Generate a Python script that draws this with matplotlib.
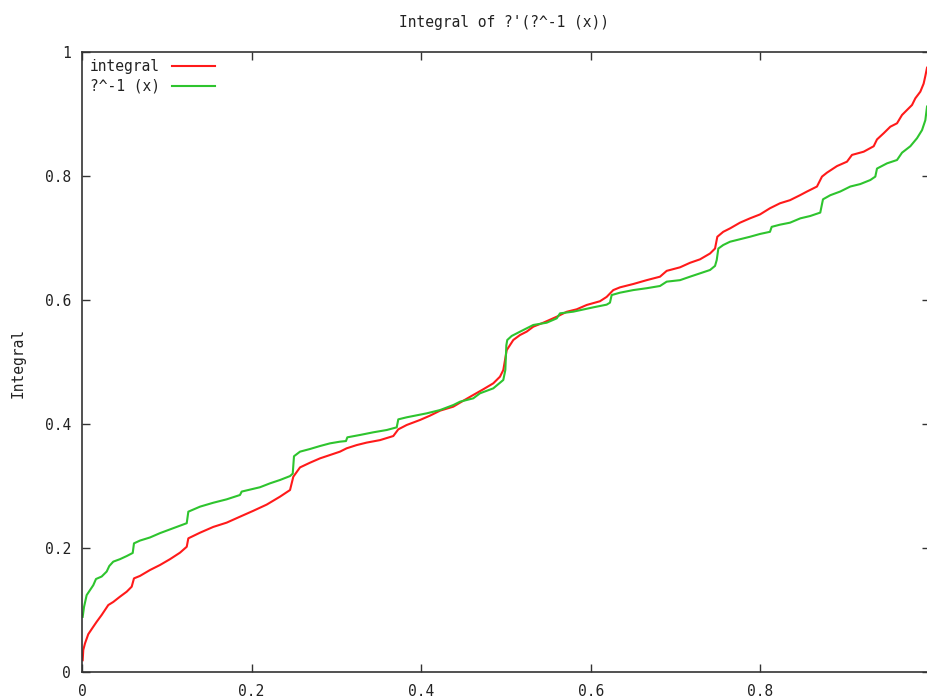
import matplotlib
matplotlib.use("Agg")
import matplotlib.pyplot as plt
from matplotlib.ticker import FuncFormatter, MultipleLocator

# ?^-1(x) sampled along [0, 1]
box_x = [0.0008, 0.0024, 0.0055, 0.0094, 0.0133, 0.0165, 0.0232, 0.0291, 0.0322, 0.0369,
         0.0448, 0.0527, 0.0598, 0.0613, 0.0684, 0.0802, 0.0920, 0.1077, 0.1235, 0.1254,
         0.1392, 0.1548, 0.1706, 0.1863, 0.1883, 0.2099, 0.2217, 0.2335, 0.2453, 0.2485,
         0.2500, 0.2571, 0.2689, 0.2807, 0.2925, 0.3042, 0.3113, 0.3129, 0.3278, 0.3435,
         0.3593, 0.3711, 0.3730, 0.3829, 0.4065, 0.4222, 0.4379, 0.4458, 0.4614, 0.4693,
         0.4850, 0.4968, 0.4992, 0.5004, 0.5015, 0.5067, 0.5165, 0.5322, 0.5480, 0.5598,
         0.5637, 0.5794, 0.6030, 0.6187, 0.6226, 0.6246, 0.6344, 0.6501, 0.6659, 0.6816,
         0.6895, 0.7052, 0.7170, 0.7288, 0.7406, 0.7465, 0.7485, 0.7504, 0.7562, 0.7642,
         0.7759, 0.7877, 0.7995, 0.8113, 0.8133, 0.8231, 0.8349, 0.8471, 0.8588, 0.8706,
         0.8738, 0.8824, 0.8942, 0.9060, 0.9178, 0.9296, 0.9355, 0.9375, 0.9493, 0.9611,
         0.9670, 0.9768, 0.9847, 0.9906, 0.9945, 0.9965]
box_y = [0.089, 0.105, 0.124, 0.132, 0.140, 0.150, 0.154, 0.162, 0.171, 0.178,
         0.182, 0.187, 0.192, 0.2075, 0.212, 0.217, 0.224, 0.232, 0.240, 0.2586,
         0.2667, 0.273, 0.2785, 0.2855, 0.291, 0.298, 0.3043, 0.3097, 0.316, 0.320,
         0.348, 0.3554, 0.3597, 0.3645, 0.3688, 0.3715, 0.3725, 0.3785, 0.3823, 0.3866,
         0.3903, 0.3946, 0.4075, 0.4108, 0.4172, 0.4225, 0.4306, 0.436, 0.4414, 0.4495,
         0.4575, 0.471, 0.487, 0.527, 0.5355, 0.542, 0.5489, 0.5597, 0.5634, 0.5704,
         0.5785, 0.5812, 0.5882, 0.5925, 0.5957, 0.608, 0.6118, 0.616, 0.619, 0.6226,
         0.6296, 0.632, 0.6376, 0.643, 0.6484, 0.655, 0.6645, 0.683, 0.6887, 0.694,
         0.698, 0.702, 0.7065, 0.710, 0.718, 0.7215, 0.7247, 0.7317, 0.7355, 0.741,
         0.7624, 0.769, 0.775, 0.783, 0.787, 0.7935, 0.799, 0.812, 0.8204, 0.8258,
         0.8376, 0.848, 0.861, 0.874, 0.890, 0.912]

# integral of ?'(?^-1(x))
integral_x = [0.0008, 0.0015, 0.0035, 0.0074, 0.0133, 0.0173, 0.0232, 0.0310, 0.0369, 0.0448,
              0.0527, 0.0586, 0.0613, 0.0684, 0.0802, 0.0920, 0.1038, 0.1156, 0.1235, 0.1254,
              0.1392, 0.1548, 0.1706, 0.1863, 0.2020, 0.2178, 0.2335, 0.2453, 0.2492, 0.2571,
              0.2689, 0.2807, 0.2925, 0.3042, 0.3121, 0.3239, 0.3357, 0.3514, 0.3671, 0.3730,
              0.3829, 0.3986, 0.4104, 0.4222, 0.4379, 0.4497, 0.4614, 0.4732, 0.4850, 0.4929,
              0.4968, 0.4992, 0.5008, 0.5086, 0.5165, 0.5244, 0.5322, 0.5440, 0.5598, 0.5716,
              0.5834, 0.5952, 0.6108, 0.6187, 0.6265, 0.6344, 0.6501, 0.6659, 0.6816, 0.6895,
              0.7052, 0.7170, 0.7288, 0.7406, 0.7465, 0.7492, 0.7562, 0.7642, 0.7759, 0.7877,
              0.7995, 0.8113, 0.8231, 0.8349, 0.8467, 0.8550, 0.8667, 0.8726, 0.8785, 0.8903,
              0.9021, 0.9080, 0.9218, 0.9336, 0.9375, 0.9454, 0.9532, 0.9611, 0.9670, 0.9729,
              0.9788, 0.9827, 0.9886, 0.9925, 0.9945, 0.9965]
integral_y = [0.019, 0.0355, 0.046, 0.061, 0.073, 0.081, 0.092, 0.108, 0.113, 0.1215,
              0.1295, 0.1376, 0.151, 0.155, 0.1645, 0.1726, 0.182, 0.1925, 0.202, 0.2156,
              0.2247, 0.234, 0.2409, 0.2505, 0.2600, 0.270, 0.2828, 0.2935, 0.315, 0.330,
              0.3376, 0.3446, 0.350, 0.3554, 0.3608, 0.366, 0.370, 0.374, 0.3806, 0.3914,
              0.3984, 0.4065, 0.4135, 0.4215, 0.428, 0.4376, 0.4468, 0.456, 0.4656, 0.4763,
              0.487, 0.506, 0.519, 0.5355, 0.5435, 0.549, 0.557, 0.5634, 0.573, 0.581,
              0.585, 0.592, 0.598, 0.605, 0.616, 0.6204, 0.6258, 0.632, 0.6376, 0.647,
              0.6527, 0.660, 0.6656, 0.675, 0.683, 0.702, 0.710, 0.7155, 0.7247, 0.7317,
              0.738, 0.748, 0.756, 0.761, 0.769, 0.775, 0.783, 0.799, 0.8054, 0.816,
              0.8231, 0.834, 0.8392, 0.848, 0.859, 0.869, 0.8795, 0.885, 0.8984, 0.9065,
              0.9145, 0.9253, 0.936, 0.949, 0.9613, 0.9747]

series_labels = ["integral", "?^-1 (x)"]
title_text = "Integral of ?'(?^-1 (x))"
y_title = "Integral"

W, H = 927, 700
plt.rcParams["font.family"] = ["DejaVu Sans Mono"]
fig = plt.figure(figsize=(W / 100, H / 100), dpi=100)
ax = fig.add_axes([82 / W, 28 / H, 848 / W, 620 / H])

ax.plot(integral_x, integral_y, color="#ff1a1a", lw=1.5, label=series_labels[0])
ax.plot(box_x, box_y, color="#2ec42e", lw=1.5, label=series_labels[1])

ax.set_xlim(0, 1)
ax.set_ylim(0, 1)
ax.xaxis.set_major_locator(MultipleLocator(0.2))
ax.yaxis.set_major_locator(MultipleLocator(0.2))
ax.xaxis.set_major_formatter(FuncFormatter(
    lambda v, p: "" if v > 0.999 else "%g" % round(v, 6)))
ax.yaxis.set_major_formatter(FuncFormatter(lambda v, p: "%g" % round(v, 6)))
ax.tick_params(direction="in", length=5.5, width=1, color="#333333",
               top=True, right=True, labelsize=10.5, labelcolor="#222222")
ax.tick_params(axis="x", pad=9)
ax.tick_params(axis="y", pad=8)
for s in ax.spines.values():
    s.set_color("#333333")
    s.set_linewidth(1.2)

fig.text(504 / W, 1 - 22 / H, title_text, ha="center", va="center",
         fontsize=10.5, color="#222222")
fig.text(18 / W, 1 - 363 / H, y_title, ha="center", va="center",
         rotation=90, fontsize=10.5, color="#222222")

ax.legend(loc="upper left", bbox_to_anchor=(90 / W, 1 - 59.5 / H),
          bbox_transform=fig.transFigure, frameon=False, markerfirst=False,
          fontsize=10.5, handlelength=2.95, handletextpad=0.8,
          labelspacing=0.3, borderpad=0, borderaxespad=0,
          labelcolor="#222222")

fig.savefig("out.png", dpi=100)
